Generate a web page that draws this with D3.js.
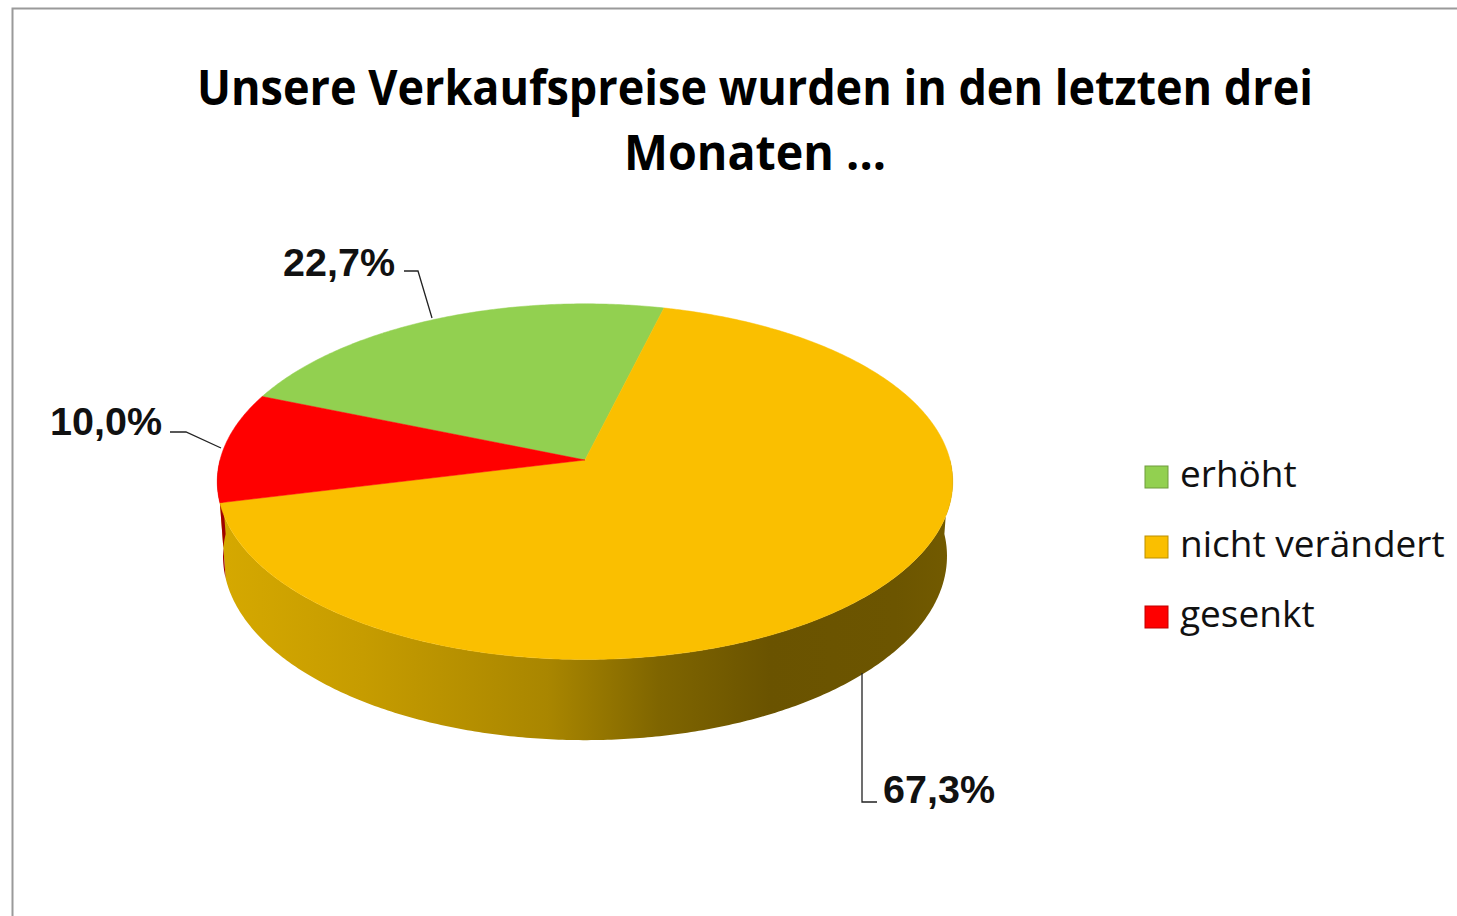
<!DOCTYPE html>
<html>
<head>
<meta charset="utf-8">
<script src="https://cdn.jsdelivr.net/npm/d3@7"></script>
<style>
  body { margin: 0; background: #fff; }
  svg { display: block; }
</style>
</head>
<body>
<svg id="chart" width="1457" height="916"></svg>
<script>
const categories = ['erhöht', 'nicht verändert', 'gesenkt'];
const values = [22.7, 67.3, 10.0];
const labels = ['22,7%', '67,3%', '10,0%'];
const colors = ['#92D050', '#FABF00', '#FF0000'];
const sideColors = ['#5f8a2c', null, '#a00000'];
const titleLines = ['Unsere Verkaufspreise wurden in den letzten drei', 'Monaten ...'];

const svg = d3.select('#chart');
const defs = svg.append('defs');

// frame
svg.append('path')
  .attr('d', 'M12.5,916 L12.5,8.5 L1457,8.5')
  .attr('fill', 'none')
  .attr('stroke', '#9a9a9a')
  .attr('stroke-width', 2);

// title
const title = svg.append('text')
  .attr('text-anchor', 'middle')
  .attr('font-family', '"Open Sans", sans-serif')
  .attr('font-weight', 'bold')
  .attr('font-size', 48)
  .attr('fill', '#000');
title.append('tspan').attr('x', 755).attr('y', 105)
  .attr('textLength', 1116).attr('lengthAdjust', 'spacingAndGlyphs')
  .text(titleLines[0]);
title.append('tspan').attr('x', 755).attr('y', 170)
  .attr('textLength', 262).attr('lengthAdjust', 'spacingAndGlyphs')
  .text(titleLines[1]);

// 3D projection of a unit disc (angle clockwise from the far side)
const cx = 585, cy = 460;
const elev = Math.asin(0.48);
const sinE = Math.sin(elev), cosE = Math.cos(elev);
const D = 8.22 * cosE;
const F = 365 * D;
const depth = 0.235;

function project(angle, r, hgt) {
  const u = r * Math.sin(angle);
  const w = -r * Math.cos(angle);
  const yc = w * sinE - hgt * cosE;
  const zc = D - w * cosE - hgt * sinE;
  return [cx + F * u / zc, cy + F * yc / zc];
}

function arcPoints(a0, a1, hgt) {
  const n = Math.max(2, Math.ceil(Math.abs(a1 - a0) / 0.01));
  return d3.range(n + 1).map(i => project(a0 + (a1 - a0) * i / n, 1, hgt));
}

const rot = (14 - 0.227 * 360) * Math.PI / 180;
const pie = d3.pie().sort(null).value(d => d.value)
  .startAngle(rot).endAngle(rot + 2 * Math.PI);
const data = categories.map((c, i) => ({ name: c, value: values[i], color: colors[i], side: sideColors[i], label: labels[i] }));
const arcs = pie(data);

// side gradient for the big slice
const grad = defs.append('linearGradient')
  .attr('id', 'sideGrad')
  .attr('gradientUnits', 'userSpaceOnUse')
  .attr('x1', 215).attr('x2', 955).attr('y1', 0).attr('y2', 0);
[[0, '#d6a900'], [0.2, '#c69c00'], [0.45, '#a98600'], [0.6, '#7f6500'], [0.75, '#6a5300'], [0.92, '#6c5500'], [1, '#735b00']]
  .forEach(s => grad.append('stop').attr('offset', s[0]).attr('stop-color', s[1]));

const line = d3.line();

// side walls (only front half can show)
const sides = svg.append('g');
arcs.forEach(a => {
  const ranges = [];
  [0, -2 * Math.PI].forEach(off => {
    const lo = Math.max(a.startAngle, Math.PI / 2 + off);
    const hi = Math.min(a.endAngle, 3 * Math.PI / 2 + off);
    if (hi > lo) ranges.push([lo, hi]);
  });
  ranges.forEach(([s, e]) => {
    const top = arcPoints(s, e, 0);
    const bot = arcPoints(e, s, -depth);
    sides.append('path')
      .attr('d', line(top.concat(bot)) + 'Z')
      .attr('fill', a.data.side || 'url(#sideGrad)');
  });
});

// top faces
const tops = svg.append('g');
arcs.forEach(a => {
  const pts = [project(0, 0, 0)].concat(arcPoints(a.startAngle, a.endAngle, 0));
  tops.append('path')
    .attr('d', line(pts) + 'Z')
    .attr('fill', a.data.color)
    .attr('stroke', a.data.color)
    .attr('stroke-width', 0.5);
});

// data labels with leader lines
const labelPos = {
  'erhöht': { text: [283, 276], line: [[404, 271], [418, 271], [432, 318]] },
  'gesenkt': { text: [50, 435], line: [[170, 432], [186, 432], [221, 448]] },
  'nicht verändert': { text: [883, 803], line: [[862, 673], [862, 802], [877, 802]] }
};
const lab = svg.append('g');
arcs.forEach(a => {
  const p = labelPos[a.data.name];
  lab.append('path')
    .attr('d', line(p.line))
    .attr('fill', 'none')
    .attr('stroke', '#222')
    .attr('stroke-width', 1.3);
  lab.append('text')
    .attr('x', p.text[0]).attr('y', p.text[1])
    .attr('font-family', '"Liberation Sans", Arial, sans-serif')
    .attr('font-weight', 'bold')
    .attr('font-size', 38)
    .attr('textLength', 112)
    .attr('lengthAdjust', 'spacingAndGlyphs')
    .attr('fill', '#111')
    .text(a.data.label);
});

// legend
const legend = svg.append('g').attr('transform', 'translate(1145,466)');
const ly = d3.scalePoint().domain(categories).range([0, 140]);
categories.forEach((c, i) => {
  const g = legend.append('g').attr('transform', `translate(0,${ly(c)})`);
  g.append('rect')
    .attr('width', 23).attr('height', 22)
    .attr('fill', colors[i])
    .attr('stroke', d3.color(colors[i]).darker(0.8))
    .attr('stroke-width', 1);
  g.append('text')
    .attr('x', 35).attr('y', 21)
    .attr('font-family', '"Open Sans", sans-serif')
    .attr('font-size', 37)
    .attr('fill', '#111')
    .text(c);
});
</script>
</body>
</html>
